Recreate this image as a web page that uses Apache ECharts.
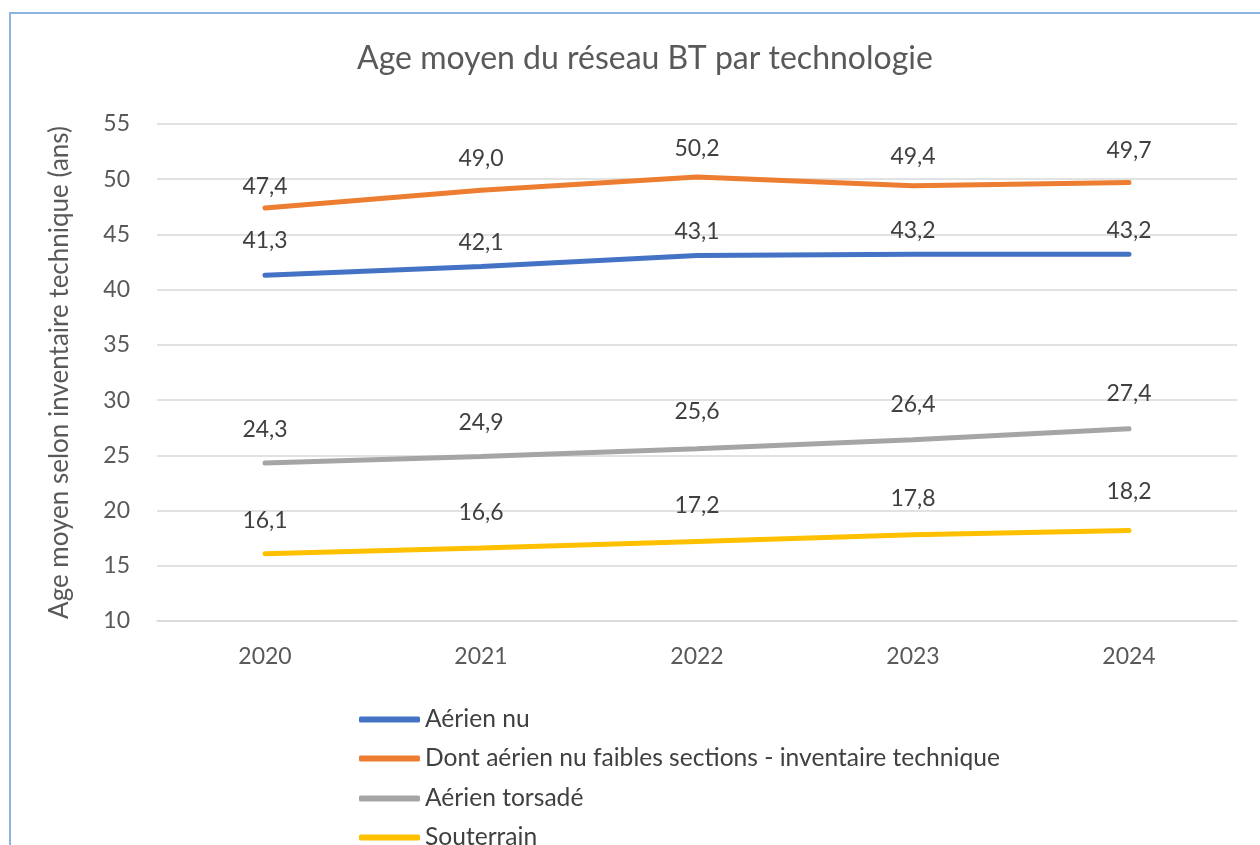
<!DOCTYPE html>
<html><head><meta charset="utf-8">
<script src="https://cdn.jsdelivr.net/npm/echarts@6/dist/echarts.min.js"></script>
<style>html,body{margin:0;padding:0;background:#fff}#c{width:1260px;height:845px}</style>
</head><body><div id="c"></div>
<script>
const years = ['2020','2021','2022','2023','2024'];
const seriesNames = ['Aérien nu','Dont aérien nu faibles sections - inventaire technique','Aérien torsadé','Souterrain'];
const aerienNu = [41.3, 42.1, 43.1, 43.2, 43.2];
const faiblesSections = [47.4, 49.0, 50.2, 49.4, 49.7];
const aerienTorsade = [24.3, 24.9, 25.6, 26.4, 27.4];
const souterrain = [16.1, 16.6, 17.2, 17.8, 18.2];
const colors = ['#4472C4','#ED7D31','#A5A5A5','#FFC000'];
// label distances (style only)
const labelDist = [[23, 12, 12, 12, 12], [10, 20, 17, 18, 20], [22, 22, 26, 24, 24], [22, 24, 24, 25, 27]];
const FONT = 'Lato';
const chart = echarts.init(document.getElementById('c'));
const mk = (name, data, i) => ({
  name, type:'line', symbol:'circle', symbolSize:0.1, showSymbol:true, smooth:false,
  data: data.map((v, j) => ({value: v, label: {distance: labelDist[i][j]}})),
  lineStyle:{width:5, color:colors[i], cap:'round'}, itemStyle:{color:colors[i]},
  label:{show:true, position:'top', fontFamily:FONT, fontSize:23, color:'#404040',
    formatter:p=>Number(p.value).toFixed(1).replace('.',',')},
  labelLayout:{hideOverlap:false}
});
const legendTops = [702, 741, 781, 820];
chart.setOption({
  animation:false,
  textStyle:{fontFamily:FONT},
  title:{text:'Age moyen du réseau BT par technologie', left:352, top:38,
    textStyle:{fontFamily:FONT, fontSize:32, fontWeight:'normal', color:'#595959'}},
  graphic:[{type:'rect', shape:{x:10,y:13,width:1300,height:900}, style:{fill:'none', stroke:'#8DB3E2', lineWidth:2}, silent:true}],
  grid:{left:157, right:23, top:124, bottom:224},
  legend:seriesNames.map((n,i)=>({orient:'vertical', left:354, top:legendTops[i], itemWidth:61, itemHeight:6, icon:'roundRect',
    textStyle:{fontFamily:FONT, fontSize:24.6, color:'#404040', lineHeight:24},
    data:[n]})),
  xAxis:{type:'category', data:years, boundaryGap:true,
    axisLine:{lineStyle:{color:'#D9D9D9', width:1.5}}, axisTick:{show:false},
    axisLabel:{fontFamily:FONT, fontSize:23, color:'#595959', margin:24}},
  yAxis:{type:'value', min:10, max:55, interval:5,
    name:'Age moyen selon inventaire technique (ans)', nameLocation:'middle', nameGap:84,
    nameTextStyle:{fontFamily:FONT, fontSize:26, color:'#595959'},
    axisLine:{show:false}, axisTick:{show:false},
    axisLabel:{fontFamily:FONT, fontSize:23, color:'#595959', margin:27},
    splitLine:{lineStyle:{color:'#D9D9D9', width:1.5}}},
  series:[mk(seriesNames[0], aerienNu, 0), mk(seriesNames[1], faiblesSections, 1),
          mk(seriesNames[2], aerienTorsade, 2), mk(seriesNames[3], souterrain, 3)]
});
</script></body></html>
